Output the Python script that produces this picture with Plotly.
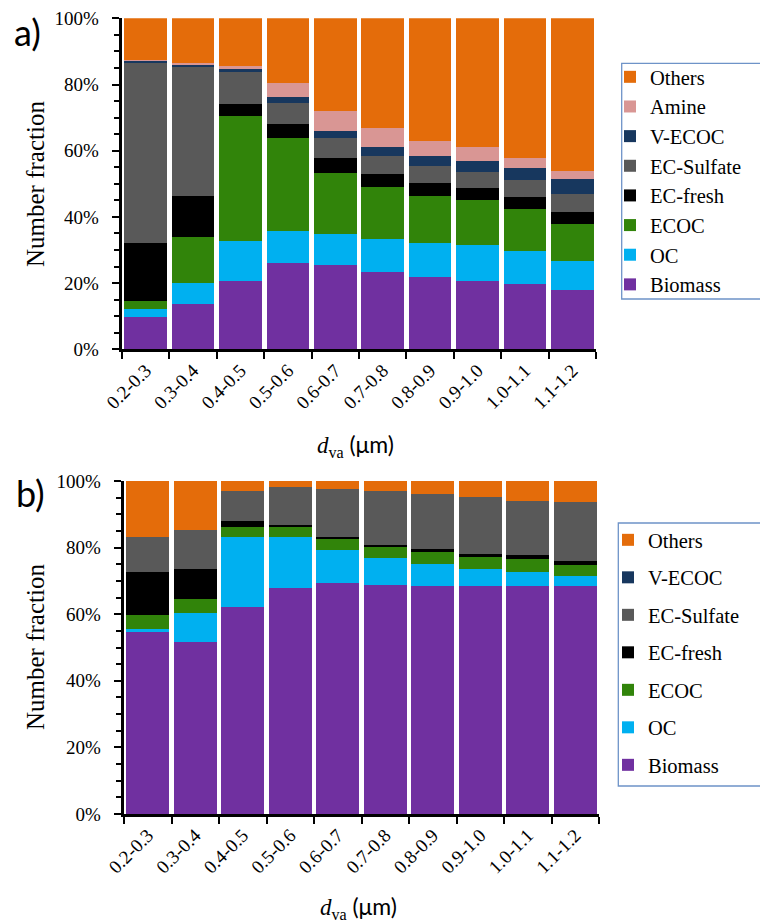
import plotly.graph_objects as go

categories = ["0.2-0.3", "0.3-0.4", "0.4-0.5", "0.5-0.6", "0.6-0.7",
              "0.7-0.8", "0.8-0.9", "0.9-1.0", "1.0-1.1", "1.1-1.2"]

# Panel a (number fraction, %)
a_biomass   = [9.9, 13.6, 20.7, 26.1, 25.6, 23.3, 21.9, 20.6, 19.7, 17.8]
a_oc        = [2.2, 6.3, 12.0, 9.7, 9.2, 10.0, 10.2, 10.8, 10.0, 8.9]
a_ecoc      = [2.5, 14.0, 37.8, 28.0, 18.5, 15.7, 14.2, 13.6, 12.8, 11.3]
a_ecfresh   = [17.6, 12.4, 3.5, 4.3, 4.6, 4.1, 4.0, 3.8, 3.4, 3.6]
a_ecsulfate = [54.5, 38.9, 9.8, 6.2, 5.8, 5.4, 5.0, 4.9, 5.2, 5.2]
a_vecoc     = [0.4, 0.7, 0.9, 1.9, 2.3, 2.6, 3.1, 3.3, 3.8, 4.7]
a_amine     = [0.3, 0.6, 0.8, 4.2, 5.9, 5.8, 4.5, 4.0, 2.9, 2.5]
a_others    = [12.6, 13.5, 14.5, 19.6, 28.1, 33.1, 37.1, 39.0, 42.2, 46.0]

# Panel b (number fraction, %)
b_biomass   = [54.8, 51.6, 62.3, 68.0, 69.4, 68.9, 68.6, 68.6, 68.6, 68.4]
b_oc        = [0.8, 8.9, 20.8, 15.1, 9.8, 7.9, 6.4, 4.9, 4.2, 3.2]
b_ecoc      = [4.3, 4.1, 3.2, 3.2, 3.4, 3.4, 3.7, 3.6, 3.7, 3.1]
b_ecfresh   = [12.7, 9.1, 1.7, 0.5, 0.5, 0.7, 0.9, 1.1, 1.2, 1.4]
b_ecsulfate = [10.7, 11.7, 9.1, 11.3, 14.6, 16.1, 16.4, 17.0, 16.4, 17.7]
b_vecoc     = [0.0, 0.0, 0.0, 0.0, 0.0, 0.0, 0.0, 0.0, 0.0, 0.0]
b_others    = [16.7, 14.6, 2.9, 1.9, 2.3, 3.0, 4.0, 4.8, 5.9, 6.2]

y_tickvals = [0, 20, 40, 60, 80, 100]
y_ticktext = ["0%", "20%", "40%", "60%", "80%", "100%"]

colors = {
    "Biomass": "#7030A0",
    "OC": "#00B0F0",
    "ECOC": "#31840A",
    "EC-fresh": "#000000",
    "EC-Sulfate": "#595959",
    "V-ECOC": "#17375E",
    "Amine": "#D99694",
    "Others": "#E46C0A",
}

series_a = [("Biomass", a_biomass), ("OC", a_oc), ("ECOC", a_ecoc),
            ("EC-fresh", a_ecfresh), ("EC-Sulfate", a_ecsulfate),
            ("V-ECOC", a_vecoc), ("Amine", a_amine), ("Others", a_others)]
series_b = [("Biomass", b_biomass), ("OC", b_oc), ("ECOC", b_ecoc),
            ("EC-fresh", b_ecfresh), ("EC-Sulfate", b_ecsulfate),
            ("V-ECOC", b_vecoc), ("Others", b_others)]

W, H = 760, 924
SERIF = "Times New Roman, Liberation Serif, DejaVu Serif, serif"
SANS = "Lato"

fig = go.Figure()
n_a = len(series_a)
for i, (name, vals) in enumerate(series_a):
    fig.add_trace(go.Bar(x=categories, y=vals, name=name, marker_color=colors[name],
                         marker_line_width=0, xaxis="x", yaxis="y", legend="legend",
                         legendrank=100 + (n_a - i)))
n_b = len(series_b)
for i, (name, vals) in enumerate(series_b):
    fig.add_trace(go.Bar(x=categories, y=vals, name=name, marker_color=colors[name],
                         marker_line_width=0, xaxis="x2", yaxis="y2", legend="legend2",
                         legendgroup="b_" + name, legendrank=200 + (n_b - i)))

def px_x(p):
    return p / W

def px_y(p):
    return 1 - p / H

# padded labels push the y tick text a little further from the axis
y_ticktext_padded = [t + "\u00a0\u00a0" for t in y_ticktext]

xaxis_common = dict(type="category", showline=True, linecolor="black", linewidth=2.5,
                    ticks="outside", tickson="boundaries", ticklen=7, tickwidth=2,
                    tickcolor="black", tickangle=-45, automargin=False,
                    tickfont=dict(family=SERIF, size=19, color="black"),
                    showgrid=False, zeroline=False)
yaxis_common = dict(range=[0, 100], tickmode="array", tickvals=y_tickvals,
                    ticktext=y_ticktext_padded, automargin=False,
                    showline=True, linecolor="black", linewidth=2.5,
                    ticks="outside", ticklen=7, tickwidth=2, tickcolor="black",
                    tickfont=dict(family=SERIF, size=19, color="black"),
                    minor=dict(tickmode="linear", tick0=0, dtick=5, ticks="outside",
                               ticklen=5, tickwidth=2, tickcolor="black", showgrid=False),
                    showgrid=False, zeroline=False)

legend_common = dict(font=dict(family=SERIF, size=20.5, color="black"),
                     borderwidth=0, bgcolor="rgba(0,0,0,0)",
                     xanchor="left", yanchor="top")

fig.update_layout(
    width=W, height=H, margin=dict(l=0, r=0, t=0, b=0, autoexpand=False),
    paper_bgcolor="white", plot_bgcolor="white",
    font=dict(family=SERIF, color="black", size=19),
    barmode="stack", bargap=0.1,
    xaxis=dict(domain=[px_x(122), px_x(596)], anchor="y", **xaxis_common),
    yaxis=dict(domain=[px_y(349.3), px_y(18.3)], anchor="x", **yaxis_common),
    xaxis2=dict(domain=[px_x(124), px_x(599)], anchor="y2", **xaxis_common),
    yaxis2=dict(domain=[px_y(814), px_y(481)], anchor="x2", **yaxis_common),
    legend=dict(x=px_x(610), y=px_y(57), traceorder="normal", **legend_common),
    legend2=dict(x=px_x(608), y=px_y(520), traceorder="grouped", tracegroupgap=7.85,
                 **legend_common),
    showlegend=True,
)

# legend frames (the legends themselves are drawn without border)
fig.add_shape(type="rect", xref="paper", yref="paper",
              x0=px_x(621.7), x1=px_x(800), y0=px_y(299), y1=px_y(63.3),
              line=dict(color="#6E93C8", width=1.3), fillcolor="rgba(0,0,0,0)", layer="below")
fig.add_shape(type="rect", xref="paper", yref="paper",
              x0=px_x(618.3), x1=px_x(800), y0=px_y(786), y1=px_y(523),
              line=dict(color="#6E93C8", width=1.3), fillcolor="rgba(0,0,0,0)", layer="below")

xtitle = ('<i>d</i><sub>va</sub> '
          '<span style="font-family:Lato;">(μm)</span>')
annotations = [
    dict(text="a)", x=px_x(27), y=px_y(32), font=dict(family=SANS, size=36, color="black")),
    dict(text="b)", x=px_x(30), y=px_y(493), font=dict(family=SANS, size=36, color="black")),
    dict(text="Number fraction", x=px_x(35), y=px_y(184), textangle=-90,
         font=dict(family=SERIF, size=25, color="black")),
    dict(text="Number fraction", x=px_x(35), y=px_y(647), textangle=-90,
         font=dict(family=SERIF, size=25, color="black")),
    dict(text=xtitle, x=px_x(355), y=px_y(446),
         font=dict(family=SERIF, size=23, color="black")),
    dict(text=xtitle, x=px_x(358), y=px_y(907),
         font=dict(family=SERIF, size=23, color="black")),
]
for a in annotations:
    a.update(xref="paper", yref="paper", showarrow=False, xanchor="center", yanchor="middle")
fig.update_layout(annotations=annotations)

fig.write_html("out.html")
